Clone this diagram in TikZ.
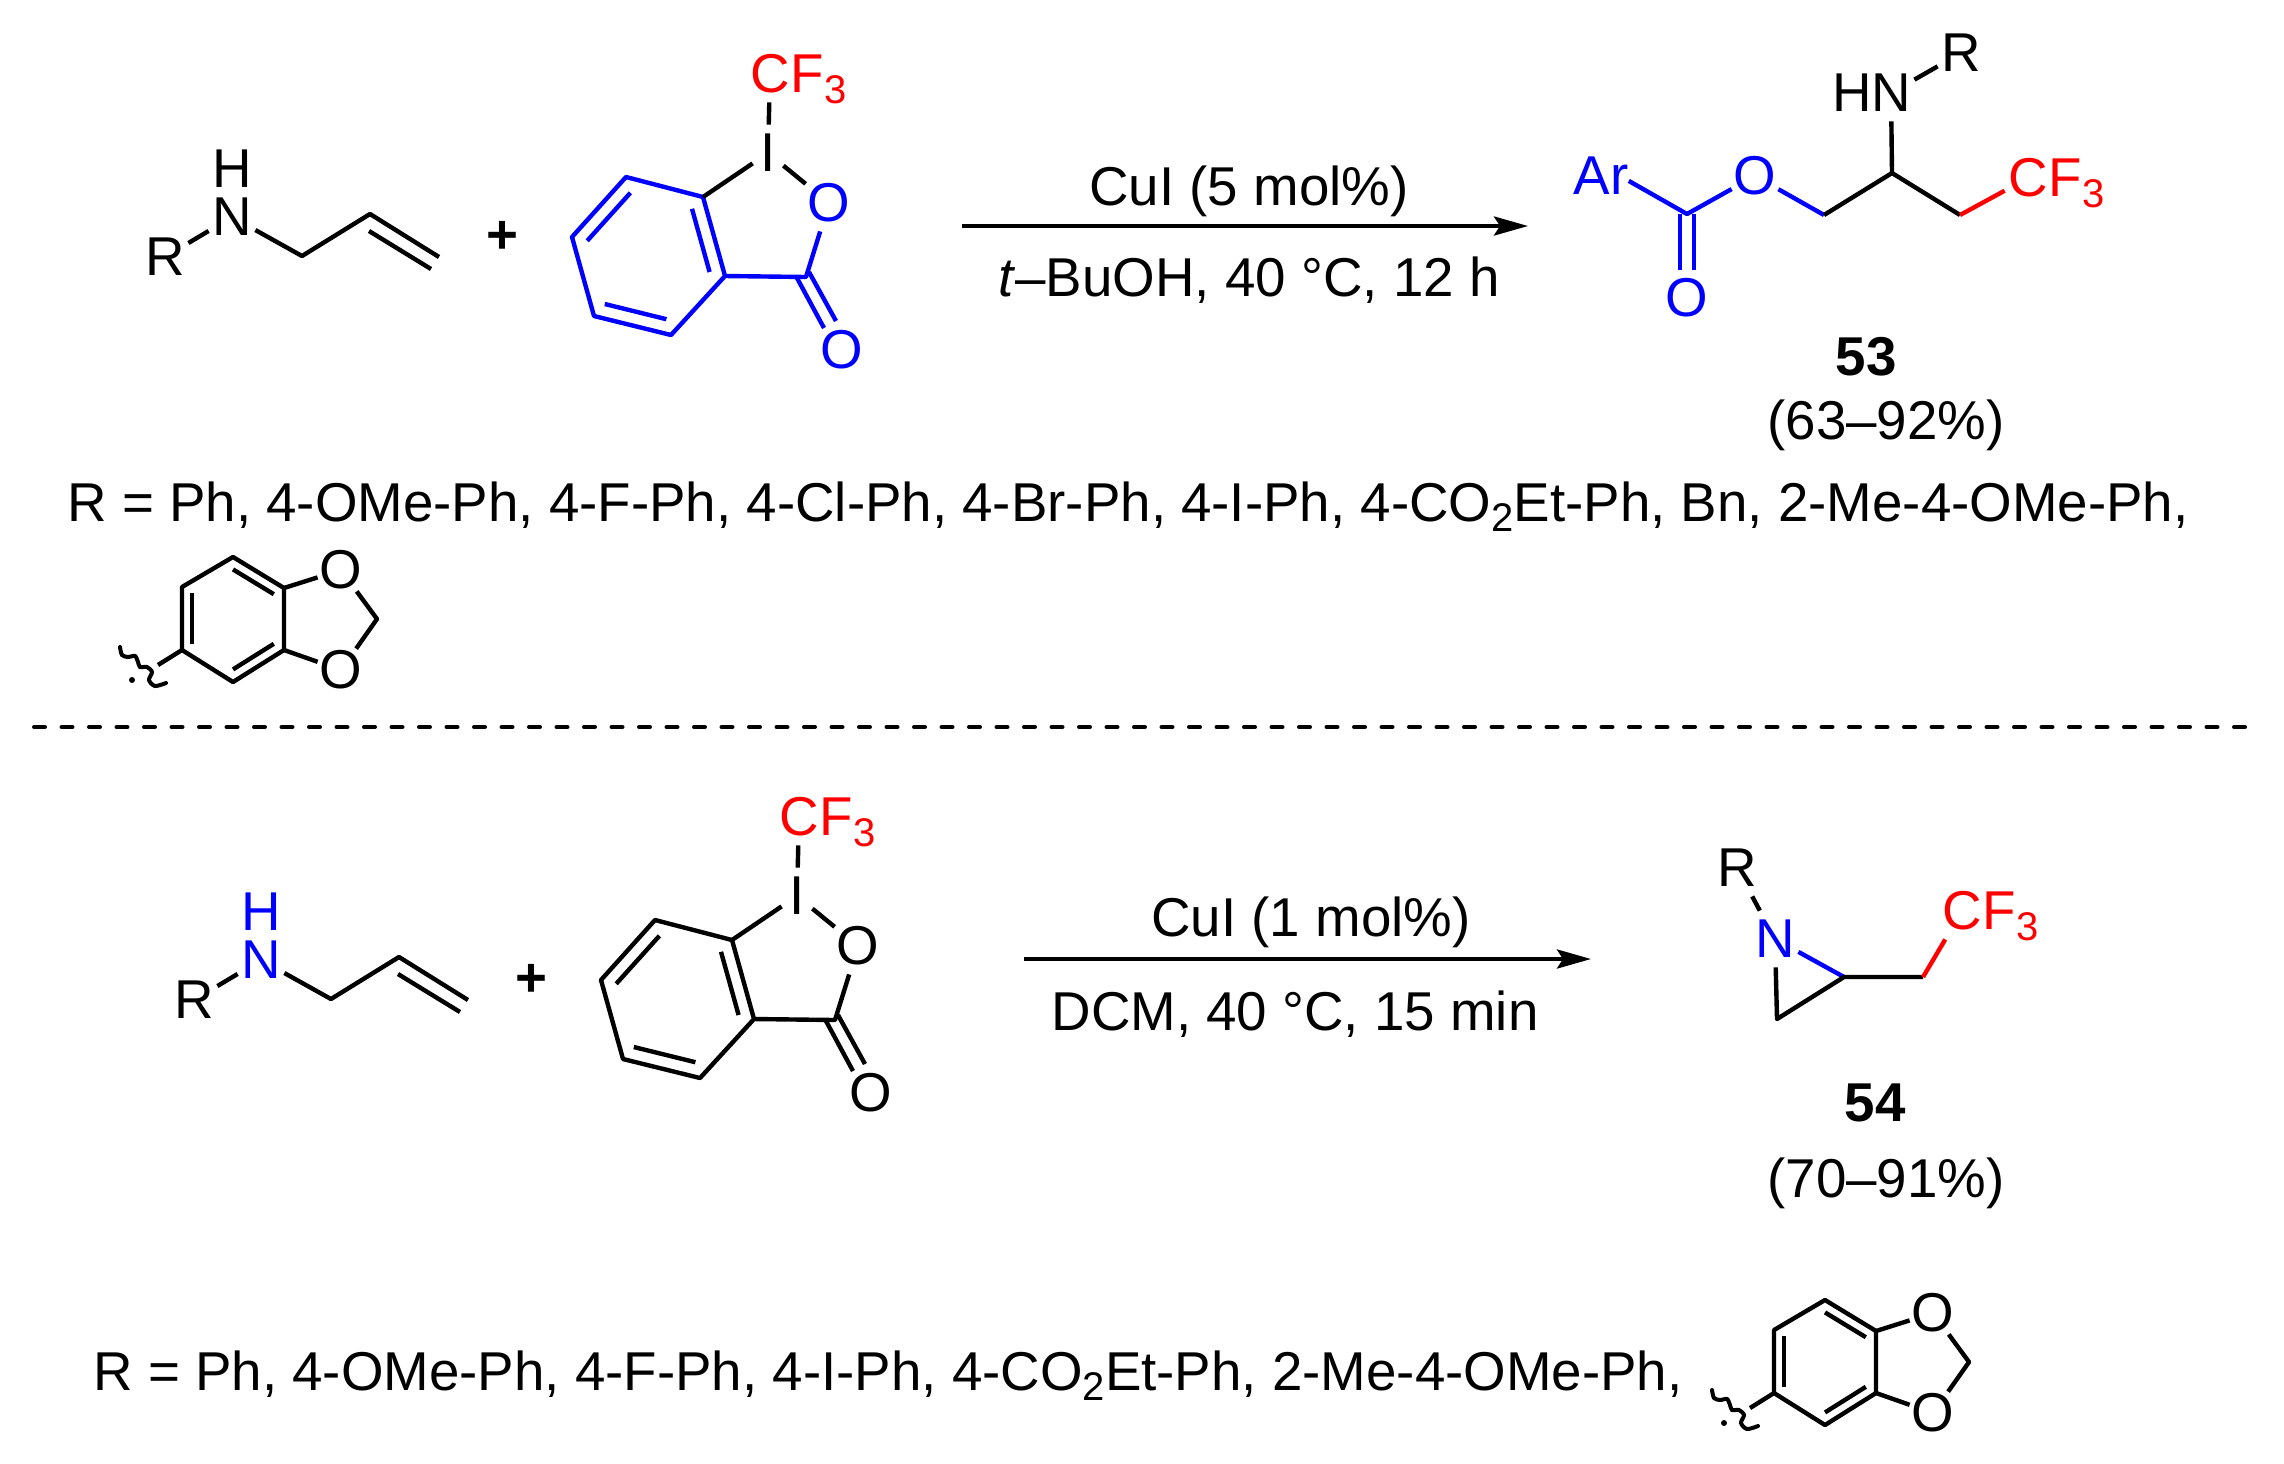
\documentclass[tikz,border=0pt]{standalone}
\usepackage{fontspec}
\setmainfont{Liberation Sans}
\usetikzlibrary{arrows.meta,calc}
\definecolor{chemblue}{RGB}{0,0,255}
\definecolor{chemred}{RGB}{255,0,0}
\newcommand\chemsub[1]{\raisebox{-.2em}{\fontsize{20}{20}\selectfont #1}}
\newcommand\innerbond[3]{\draw [bond] ($(#1)!.2!(#3)$) -- ($(#2)!.2!(#3)$);}
\newcommand\cfgroup[2]{
    \node [atom, chemred] (#1) at (#2) {C};
    \node [subtext, chemred] (#1f) at ([xshift=-1.5pt]#1.base east) {F\chemsub{3}};
}
\begin{document}
\begin{tikzpicture}[
    x=.5pt, y=-.5pt,
    every node/.style={font=\fontsize{27.35}{32}\selectfont},
    bond/.style={line width=2.2pt, line join=round},
    atom/.style={rectangle, inner sep=0pt, minimum width=23pt, minimum height=28pt},
    subtext/.style={anchor=base west, inner sep=0pt},
    label/.style={inner sep=0pt},
    rxn/.style={line width=2pt, -{Stealth[length=17pt,width=9.5pt,inset=3pt]}},
    pics/allylamine/.style={code={
        \node [atom] (rr) at (165,257) {R};
        \node [atom, #1] (nn) at (232,217) {N};
        \node [label, #1] (hh) at (232,169) {H};
        \coordinate (c1) at (302,256);
        \coordinate (c2) at (370,214);
        \coordinate (c3) at (439,257);
        \coordinate (c3b) at (431,269);
        \coordinate (c2b) at (369,231);
        \draw [bond] (rr) -- (nn);
        \draw [bond] (nn) -- (c1) -- (c2) -- (c3);
        \draw [bond] (c2b) -- (c3b);
    }},
    pics/iodane/.style={code={
        \coordinate (a) at (626,177);
        \coordinate (b) at (703,197);
        \coordinate (c) at (725,276);
        \coordinate (d) at (671,335);
        \coordinate (e) at (594,316);
        \coordinate (f) at (572,237);
        \coordinate (m) at (648,256);
        \coordinate (k) at (806,277);
        \node [atom, minimum width=15pt] (io) at (768,153) {I};
        \node [atom, #1] (o1) at (829,203) {O};
        \node [atom, #1] (o2) at (842,350) {O};
        \cfgroup{cf}{770,74}
        \begin{scope}[bond, color=#1]
            \draw (a) -- (b) -- (c) -- (d) -- (e) -- (f) -- cycle;
            \innerbond{a}{f}{m}
            \innerbond{b}{c}{m}
            \innerbond{d}{e}{m}
            \draw (c) -- (k) -- (o1);
            \draw ([shift={(-9,1)}]k) -- ([shift={(-18,-22)}]o2.center);
            \draw ([shift={(3,-5)}]k) -- ([shift={(-6,-29)}]o2.center);
        \end{scope}
        \draw [bond] (b) -- (io);
        \draw [bond] (io) -- (o1);
        \draw [bond] (io) -- (cf);
    }},
    pics/dioxole/.style={code={
        \coordinate (a) at (233,557);
        \coordinate (b) at (284,588);
        \coordinate (c) at (284,650);
        \coordinate (d) at (233,682);
        \coordinate (e) at (182,650);
        \coordinate (f) at (182,587);
        \coordinate (m) at (233,619);
        \coordinate (g) at (377,619);
        \coordinate (w) at (158,665);
        \node [atom, minimum height=21pt] (o1) at (341,570) {O};
        \node [atom, minimum height=21pt] (o2) at (341,670) {O};
        \draw [bond] (a) -- (b) -- (c) -- (d) -- (e) -- (f) -- cycle;
        \innerbond{a}{b}{m}
        \innerbond{c}{d}{m}
        \innerbond{e}{f}{m}
        \draw [bond] (b) -- (o1);
        \draw [bond] (c) -- (o2);
        \draw [bond] (o1) -- (g) -- (o2);
        \draw [bond] (e) -- (w);
        \draw [line width=2pt, line cap=round] plot [smooth] coordinates {(120,647) (122,655) (128,657) (135,656) (138,662) (140,667) (147,667) (152,672) (149,680) (155,686) (166,683)};
        \fill (132,680) circle (1.5pt);
    }},
]
    \useasboundingbox (0,0) rectangle (2284,1463);

    \pic (ta) {allylamine=black};
    \node [label] (plusa) at (502,237) {\textbf{+}};
    \pic (ti) {iodane=chemblue};
    \coordinate (ra) at (962,226);
    \coordinate (rb) at (1528,226);
    \draw [rxn] (ra) -- (rb);
    \node [label] (cata) at (1249,191) {CuI (5 mol\%)};
    \node [label] (conda) at (1249,280) {\textit{t}–BuOH, 40 °C, 12 h};

    \node [atom, chemblue] (ar) at (1601,176) {Ar};
    \node [atom, chemblue] (oa) at (1755,176) {O};
    \node [atom, chemblue] (ob) at (1687,298) {O};
    \node [label] (hb) at (1852,93) {H};
    \node [atom] (nb) at (1891,93) {N};
    \node [atom] (rc) at (1961,53) {R};
    \cfgroup{cfb}{2028,178}
    \coordinate (ca) at (1687,214);
    \coordinate (cb) at (1824,215);
    \coordinate (cc) at (1892,173);
    \coordinate (cd) at (1960,215);
    \draw [bond, chemblue] (ar.-10) -- (ca) -- (oa);
    \draw [bond, chemblue] (oa) -- (cb);
    \draw [bond, chemblue] ([xshift=-3.5pt]ca) -- ([xshift=-3.5pt]ob.north);
    \draw [bond, chemblue] ([xshift=3.5pt]ca) -- ([xshift=3.5pt]ob.north);
    \draw [bond] (cb) -- (cc) -- (cd);
    \draw [bond] (cc) -- (nb);
    \draw [bond] (nb) -- (rc);
    \draw [bond, chemred] (cd) -- (cfb);
    \node [label, font=\fontsize{27.35}{32}\selectfont\bfseries] (numa) at (1866,357) {53};
    \node [label] (yielda) at (1886,425) {(63–92\%)};

    \node [subtext] (lista) at (67,521) {R = Ph, 4-OMe-Ph, 4-F-Ph, 4-Cl-Ph, 4-Br-Ph, 4-I-Ph, 4-CO\chemsub{2}Et-Ph, Bn, 2-Me-4-OMe-Ph,};
    \pic (da) {dioxole};

    \coordinate (dl) at (34,727);
    \coordinate (dr) at (2252,727);
    \draw [line width=2pt, line cap=round, dash pattern=on 5.5pt off 8.25pt] (dl) -- (dr);

    \begin{scope}[shift={(29,743)}]
        \pic (ba) {allylamine=chemblue};
        \node [label] (plusb) at (502,237) {\textbf{+}};
        \pic (bi) {iodane=black};
    \end{scope}
    \coordinate (rd) at (1024,959);
    \coordinate (re) at (1591,959);
    \draw [rxn] (rd) -- (re);
    \node [label] (catb) at (1311,922) {CuI (1 mol\%)};
    \node [label] (condb) at (1295,1014) {DCM, 40 °C, 15 min};

    \node [atom] (rz) at (1737,868) {R};
    \node [atom, chemblue] (nz) at (1775,939) {N};
    \cfgroup{cfz}{1962,911}
    \coordinate (za) at (1844,977);
    \coordinate (zb) at (1777,1019);
    \coordinate (zc) at (1923,977);
    \draw [bond] (rz) -- (nz);
    \draw [bond, chemblue] (nz) -- (za);
    \draw [bond] (nz) -- (zb) -- (za) -- (zc);
    \draw [bond, chemred] (zc) -- (cfz);
    \node [label, font=\fontsize{27.35}{32}\selectfont\bfseries] (numb) at (1875,1103) {54};
    \node [label] (yieldb) at (1886,1183) {(70–91\%)};

    \node [subtext] (listb) at (93,1390) {R = Ph, 4-OMe-Ph, 4-F-Ph, 4-I-Ph, 4-CO\chemsub{2}Et-Ph, 2-Me-4-OMe-Ph,};
    \begin{scope}[shift={(1592,743)}]
        \pic (db) {dioxole};
    \end{scope}
\end{tikzpicture}
\end{document}
